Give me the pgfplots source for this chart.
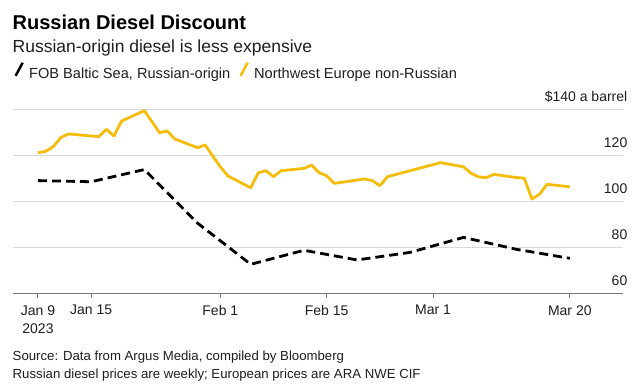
\documentclass[border=0pt]{standalone}
\usepackage{fontspec}
\setmainfont{Liberation Sans}
\usepackage{pgfplots}
\usepackage{pgfplotstable}
\pgfplotsset{compat=1.18}
\definecolor{gold}{RGB}{245,188,10}
\definecolor{gridgray}{RGB}{218,218,218}
\definecolor{axgray}{RGB}{120,120,120}
\definecolor{txt}{RGB}{30,30,30}

% days since Jan 9, 2023
\pgfplotstableread{
d v
0 121.1
1 121.7
2 123.7
3 127.7
4 129.3
8 128.1
9 131.3
10 128.4
11 134.9
14 139.4
16 129.8
17 130.6
18 127.1
21 123.3
22 124.5
23 119.7
24 115.0
25 111.0
28 105.9
29 112.4
30 113.3
31 110.7
32 113.3
35 114.3
36 115.7
37 112.4
38 111.1
39 107.8
43 109.7
44 109.0
45 106.8
46 110.7
53 116.8
56 115.0
57 112.2
58 110.6
59 110.3
60 111.7
63 110.3
64 110.1
65 101.0
66 103.0
67 107.4
70 106.3
}\nwe

\pgfplotstableread{
d v
0 109.0
7 108.5
14 113.8
21 90.5
28 72.6
35 78.7
42 74.5
49 77.8
56 84.3
63 79.1
70 75.2
}\rus

\begin{document}
\begin{tikzpicture}[x=1pt,y=1pt]
\useasboundingbox (0,0) rectangle (632,387);
\begin{axis}[
  at={(12.7pt,93.7pt)}, anchor=south west,
  scale only axis, width=610.3pt, height=184pt,
  xmin=-3.33, xmax=77, ymin=60, ymax=140,
  axis y line*=right, axis x line*=bottom,
  y axis line style={draw=none},
  x axis line style={draw=axgray, line width=1.5pt, -},
  xtick={0,7,24,38,52,70},
  xticklabels={{Jan 9\\2023},{Jan 15},{Feb 1},{Feb 15},{Mar 1},{Mar 20}},
  x tick label style={align=center, font=\fontsize{14}{18}\selectfont, text=txt, yshift=-4pt},
  tick align=outside, major tick length=4.5pt,
  x tick style={draw=axgray, line width=1pt},
  ytick={60,80,100,120,140},
  yticklabels={60,80,100,120,{\$140 a barrel}},
  y tick style={draw=none},
  y tick label style={anchor=base east, inner sep=0pt, yshift=7.5pt, font=\fontsize{14}{17}\selectfont, text=txt},
  ymajorgrids, grid style={draw=gridgray, line width=1pt},
  /pgf/number format/assume math mode=true,
  legend columns=2,
  legend cell align=left,
  legend style={draw=none, fill=none, at={(axis description cs:0,1)}, anchor=south west,
    xshift=1.5pt, yshift=26.8pt, inner sep=0pt,
    font=\fontsize{14.6}{17}\selectfont, text=txt,
    /tikz/every even column/.append style={column sep=7pt}},
  legend image code/.code={\draw[#1, solid, line width=2.5pt] (0.5pt,-1.5pt) -- (7.5pt,11.5pt); \path[draw=none, fill=none] (0pt,0pt) rectangle (12pt,0.1pt);},
]
\addplot[black, line width=2.8pt, dash pattern=on 9pt off 5pt] table[x=d, y=v] {\rus};
\addlegendentry{FOB Baltic Sea, Russian-origin}
\addplot[gold, line width=2.8pt, line join=round] table[x=d, y=v] {\nwe};
\addlegendentry{Northwest Europe non-Russian}
\end{axis}
\node[anchor=base west, inner sep=0pt, font=\fontsize{20}{24}\selectfont\bfseries] at (12.5,357.7) {Russian Diesel Discount};
\node[anchor=base west, inner sep=0pt, font=\fontsize{17.5}{21}\selectfont, text=txt] at (12.5,334.7) {Russian-origin diesel is less expensive};
\node[anchor=base west, inner sep=0pt, font=\fontsize{13.2}{16}\selectfont, text=txt] at (12.5,26) {Source: Data from Argus Media, compiled by Bloomberg};
\node[anchor=base west, inner sep=0pt, font=\fontsize{13.2}{16}\selectfont, text=txt] at (12.5,8) {Russian diesel prices are weekly; European prices are ARA NWE CIF};
\end{tikzpicture}
\end{document}
